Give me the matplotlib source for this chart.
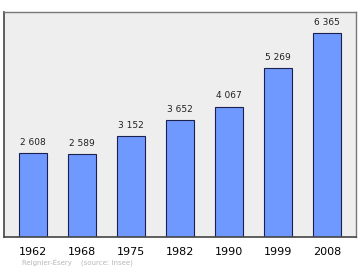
import numpy as np
from matplotlib import pyplot as plt

years = ["1962", "1968", "1975", "1982", "1990", "1999", "2008"]
population = [2608, 2589, 3152, 3652, 4067, 5269, 6365]
bar_labels = ["2 608", "2 589", "3 152", "3 652", "4 067", "5 269", "6 365"]
caption = "Reignier-Ésery    (source: Insee)"

fig = plt.figure(figsize=(3.6, 2.7), dpi=100)
ax = fig.add_axes([4 / 360, 33 / 270, 352 / 360, 225 / 270])
ax.set_facecolor("#eeeeee")

x = np.arange(len(years))
bars = ax.bar(x, population, width=0.57, color="#7099ff",
              edgecolor="#1c2050", linewidth=0.8, zorder=2)
for rect, lab in zip(bars, bar_labels):
    ax.text(rect.get_x() + rect.get_width() / 2, rect.get_height() + 200, lab,
            ha="center", va="bottom", fontsize=6.5, color="#222222")

ax.set_xlim(-0.59, len(years) - 1 + 0.59)
ax.set_ylim(0, 7020)
ax.set_yticks([])
ax.set_xticks(x)
ax.set_xticklabels(years, fontsize=8)
ax.tick_params(axis="x", length=0, pad=7)
for side in ["top", "right"]:
    ax.spines[side].set_color("#777777")
    ax.spines[side].set_linewidth(1.0)
for side in ["left", "bottom"]:
    ax.spines[side].set_color("#444444")
    ax.spines[side].set_linewidth(1.2)

fig.text(22 / 360, 1 - 263 / 270, caption, fontsize=5, color="#b8b8b8",
         va="center")

fig.savefig("out.png", dpi=100)
